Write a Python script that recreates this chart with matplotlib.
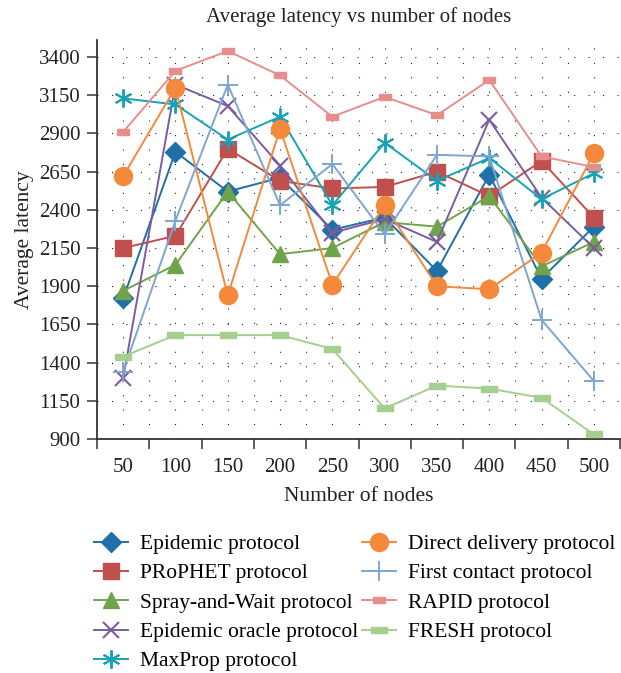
import numpy as np
import matplotlib
matplotlib.use("Agg")
import matplotlib.pyplot as plt

plt.rcParams['font.family'] = ['Liberation Serif', 'DejaVu Serif']

nodes = ["50", "100", "150", "200", "250", "300", "350", "400", "450", "500"]

epidemic = [1820, 2780, 2520, 2610, 2270, 2350, 2000, 2630, 1950, 2290]
prophet = [2150, 2230, 2800, 2590, 2540, 2550, 2650, 2490, 2720, 2350]
spray = [1870, 2040, 2520, 2110, 2150, 2320, 2290, 2490, 2030, 2190]
oracle = [1300, 3220, 3080, 2690, 2250, 2340, 2190, 2990, 2480, 2150]
maxprop = [3130, 3090, 2860, 3010, 2430, 2840, 2590, 2740, 2470, 2640]
direct = [2620, 3200, 1840, 2930, 1910, 2430, 1900, 1880, 2120, 2770]
first_contact = [1340, 2330, 3220, 2430, 2700, 2240, 2760, 2750, 1680, 1280]
rapid = [2910, 3310, 3440, 3280, 3010, 3140, 3020, 3250, 2750, 2680]
fresh = [1440, 1580, 1580, 1580, 1490, 1100, 1250, 1230, 1170, 930]

yticks = [900, 1150, 1400, 1650, 1900, 2150, 2400, 2650, 2900, 3150, 3400]

W, H = 621, 673
fig = plt.figure(figsize=(W / 100, H / 100), dpi=100)
ax = fig.add_axes([97 / W, 1 - 439 / H, (620 - 97) / W, (439 - 40) / H])

x = np.arange(len(nodes))

rect_wide = [(-2, -1), (2, -1), (2, 1), (-2, 1), (-2, -1)]
rect_wider = [(-3, -1), (3, -1), (3, 1), (-3, 1), (-3, -1)]

series = [
    ("Epidemic protocol", epidemic, "#1f70a8", dict(marker="D", ms=10)),
    ("PRoPHET protocol", prophet, "#c0504d", dict(marker="s", ms=12)),
    ("Spray-and-Wait protocol", spray, "#70a44a", dict(marker="^", ms=12)),
    ("Epidemic oracle protocol", oracle, "#7a5d9e", dict(marker="x", ms=11, mew=1.5)),
    ("MaxProp protocol", maxprop, "#18a2b4", dict(marker=(6, 2, 0), ms=13, mew=1.4)),
    ("Direct delivery protocol", direct, "#f5893b", dict(marker="o", ms=13)),
    ("First contact protocol", first_contact, "#7ea6d0", dict(marker="+", ms=14, mew=1.4)),
    ("RAPID protocol", rapid, "#e68e8c", dict(marker=rect_wide, ms=8)),
    ("FRESH protocol", fresh, "#a5cf8e", dict(marker=rect_wider, ms=12)),
]

handles = []
for i, (label, vals, color, mk) in enumerate(series):
    h, = ax.plot(x, vals, color=color, lw=1.4, mfc=color, mec=color,
                 label=label, zorder=3 + i, **mk)
    handles.append(h)

ax.set_xlim(-0.5, 9.5)
ax.set_ylim(900, 3512)
ax.set_xticks(x)
ax.set_xticklabels(nodes)
ax.set_xticks(np.arange(-0.5, 10, 1), minor=True)
ax.set_yticks(yticks)
ax.tick_params(axis='x', which='major', length=0, labelsize=15, pad=14, colors='#222222')
ax.tick_params(axis='x', which='minor', length=7, width=1.1, color='#333333', direction='out')
ax.tick_params(axis='y', which='major', length=7, width=1.1, color='#333333', labelsize=15,
               pad=5, labelcolor='#222222')

for s in ['top', 'right']:
    ax.spines[s].set_visible(False)
for s in ['left', 'bottom']:
    ax.spines[s].set_color('#333333')
    ax.spines[s].set_linewidth(1.3)

ax.grid(True, which='major', axis='y', color='#222222', lw=0.8, linestyle=(0, (1, 12)))
ax.grid(True, which='both', axis='x', color='#222222', lw=0.8, linestyle=(0, (1, 12)))
ax.set_axisbelow(True)

ax.set_title("Average latency vs number of nodes", fontsize=15, pad=13, color='#222222')
ax.set_xlabel("Number of nodes", fontsize=15.5, labelpad=7, color='#222222')
ax.set_ylabel("Average latency", fontsize=15.5, labelpad=3, color='#222222')

fig.legend(handles=handles, loc='upper left', bbox_to_anchor=(94 / W, 1 - 534 / H),
           ncol=2, frameon=False, fontsize=15.5, handlelength=1.6, handletextpad=0.55,
           columnspacing=0.15, labelspacing=0.43, borderaxespad=0, borderpad=0)

fig.savefig("out.png", dpi=100)
